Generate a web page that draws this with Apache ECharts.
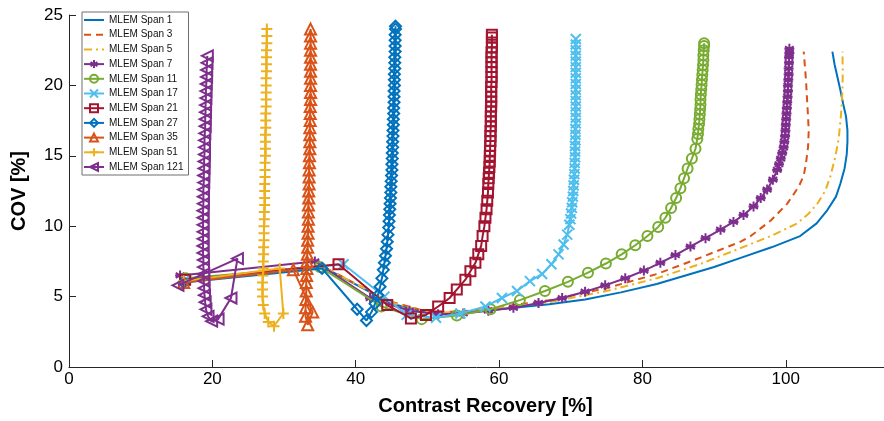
<!DOCTYPE html>
<html>
<head>
<meta charset="utf-8">
<script src="https://cdn.jsdelivr.net/npm/echarts@6/dist/echarts.min.js"></script>
<style>
html,body{margin:0;padding:0;background:#fff;}
#chart{width:884px;height:421px;}
</style>
</head>
<body>
<div id="chart"></div>
<script>
// ---- data (x = contrast recovery %, y = COV %) ----
const seriesNames = ['MLEM Span 1','MLEM Span 3','MLEM Span 5','MLEM Span 7','MLEM Span 11','MLEM Span 17','MLEM Span 21','MLEM Span 27','MLEM Span 35','MLEM Span 51','MLEM Span 121'];
const xTicks = [0,20,40,60,80,100];
const yTicks = [0,5,10,15,20,25];

const span1 = [[16.0,6.1],[35.5,7.1],[45.0,4.5],[50.5,3.8],[55,3.85],[60,4.1],[67,4.45],[72,4.8],[77,5.3],[82,5.9],[86,6.5],[90,7.1],[93.7,7.75],[98,8.5],[102,9.3],[104.3,10.2],[105.8,11.15],[107.0,12.1],[107.6,13.0],[108.2,14.1],[108.5,15.1],[108.6,16.0],[108.6,16.8],[108.4,17.8],[108.0,18.7],[107.6,19.7],[107.2,20.6],[106.8,21.5],[106.5,22.4]];
const span3 = [[16.1,6.2],[35.2,7.2],[44.5,4.7],[50.2,3.9],[55,3.95],[60,4.25],[67,4.75],[75,5.6],[82,6.6],[88,7.75],[93.7,8.9],[95.1,9.3],[97.9,10.4],[100.2,11.6],[101.8,12.8],[102.5,13.6],[102.8,14.4],[103.1,15.6],[103.2,16.8],[103.1,17.8],[103.0,18.7],[102.8,20.5],[102.5,22.4]];
const span5 = [[16.0,6.1],[35.4,7.15],[44.8,4.6],[50.4,3.85],[55,3.9],[60,4.2],[67,4.6],[75,5.4],[82,6.3],[88,7.3],[93.7,8.45],[97.9,9.3],[101.6,10.2],[103.2,10.9],[104.4,11.6],[105.5,12.5],[106.2,13.5],[106.9,14.9],[107.4,16.3],[107.7,17.9],[107.9,19.6],[107.95,21.0],[107.9,22.4]];
const span7 = [[15.5,6.5],[34.3,7.5],[42.0,4.9],[47.5,4.0],[51.5,3.75],[55,3.8],[58.5,4.0],[62,4.2],[65.5,4.55],[68.8,4.9],[72,5.35],[74.8,5.8],[77.6,6.3],[80.2,6.85],[82.5,7.4],[84.6,7.95],[86.7,8.55],[88.8,9.15],[90.9,9.75],[92.7,10.3],[94.1,10.8],[95.5,11.4],[96.5,12.0],[97.4,12.6],[98.2,13.3],[98.8,14.0],[99.05,14.4],[99.3,14.8],[99.5,15.2],[99.7,15.6],[99.8,16.0],[99.9,16.4],[99.95,16.8],[100.0,17.2],[100.05,17.6],[100.1,18.0],[100.15,18.4],[100.2,18.8],[100.25,19.2],[100.3,19.6],[100.3,20.0],[100.35,20.4],[100.4,20.8],[100.4,21.2],[100.45,21.6],[100.45,22.0],[100.5,22.3],[100.5,22.6]];
const span11 = [[16.3,6.3],[35.0,7.1],[43.6,4.3],[49.2,3.4],[54.1,3.65],[58.8,4.1],[62.9,4.75],[66.4,5.4],[69.6,6.05],[72.4,6.7],[74.9,7.35],[77.1,8.0],[79.0,8.65],[80.7,9.3],[82.2,9.95],[83.2,10.6],[84.0,11.3],[84.7,12.0],[85.3,12.7],[85.8,13.4],[86.3,14.1],[86.9,14.8],[87.4,15.5],[87.65,16.2],[87.75,16.55],[87.8,16.9],[87.9,17.25],[87.95,17.6],[88.0,17.95],[88.05,18.3],[88.1,18.65],[88.1,19.0],[88.15,19.35],[88.2,19.7],[88.25,20.05],[88.3,20.4],[88.35,20.75],[88.4,21.1],[88.45,21.45],[88.5,21.8],[88.5,22.15],[88.55,22.5],[88.6,22.8],[88.6,23.0]];
const span17 = [[16.2,6.2],[38.3,7.3],[44.0,5.0],[47.1,3.7],[51.2,3.5],[54.6,3.8],[58.1,4.3],[60.4,4.9],[62.5,5.4],[64.3,6.1],[66.0,6.6],[67.3,7.3],[68.3,8.0],[69.0,8.7],[69.5,9.4],[69.8,10.1],[69.95,10.5],[70.05,10.9],[70.15,11.3],[70.2,11.7],[70.3,12.1],[70.35,12.5],[70.4,12.9],[70.45,13.3],[70.5,13.7],[70.55,14.1],[70.55,14.5],[70.6,14.9],[70.6,15.3],[70.6,15.7],[70.65,16.1],[70.65,16.5],[70.65,16.9],[70.7,17.3],[70.7,17.7],[70.7,18.1],[70.7,18.5],[70.7,18.9],[70.7,19.3],[70.7,19.7],[70.7,20.1],[70.7,20.5],[70.7,20.9],[70.7,21.3],[70.7,21.7],[70.7,22.1],[70.7,22.5],[70.7,22.9],[70.7,23.3]];
const span21 = [[16.2,6.2],[37.6,7.3],[44.4,4.4],[47.7,3.45],[49.8,3.7],[51.5,4.3],[53.1,4.9],[54.1,5.5],[55.3,6.2],[56.0,6.8],[56.7,7.4],[57.1,8.0],[57.5,8.6],[57.7,9.3],[57.95,10.0],[58.1,10.6],[58.25,11.2],[58.35,11.8],[58.45,12.4],[58.5,13.0],[58.55,13.4],[58.6,13.8],[58.65,14.2],[58.7,14.6],[58.7,15.0],[58.75,15.35],[58.75,15.7],[58.8,16.05],[58.8,16.4],[58.8,16.75],[58.85,17.1],[58.85,17.45],[58.85,17.8],[58.85,18.15],[58.9,18.5],[58.9,18.85],[58.9,19.2],[58.9,19.55],[58.9,19.9],[58.95,20.25],[58.95,20.6],[58.95,20.95],[58.95,21.3],[58.95,21.65],[58.95,22.0],[58.95,22.35],[59.0,22.7],[59.0,23.05],[59.0,23.4],[59.0,23.6]];
const span27 = [[16.0,6.0],[35.3,7.0],[40.2,4.1],[41.5,3.3],[42.2,3.9],[42.7,4.5],[43.1,5.1],[43.4,5.7],[43.65,6.3],[43.85,6.9],[44.0,7.4],[44.15,7.9],[44.3,8.4],[44.4,8.9],[44.5,9.4],[44.6,9.9],[44.65,10.35],[44.7,10.8],[44.75,11.2],[44.8,11.6],[44.85,12.0],[44.9,12.4],[44.9,12.8],[44.95,13.2],[45.0,13.6],[45.05,14.0],[45.05,14.4],[45.1,14.8],[45.1,15.2],[45.15,15.6],[45.15,16.0],[45.2,16.4],[45.2,16.8],[45.25,17.2],[45.25,17.6],[45.3,18.0],[45.3,18.4],[45.35,18.8],[45.35,19.2],[45.35,19.6],[45.4,20.0],[45.4,20.4],[45.4,20.8],[45.45,21.2],[45.45,21.6],[45.45,22.0],[45.5,22.4],[45.5,22.8],[45.5,23.2],[45.5,23.6],[45.55,24.0],[45.55,24.2]];
const span35 = [[16.0,6.0],[31.3,6.9],[34.0,3.9],[33.3,3.0],[33.0,3.6],[33.0,4.2],[33.05,4.8],[33.1,5.4],[33.1,6.0],[33.15,6.5],[33.2,7.0],[33.2,7.5],[33.25,8.0],[33.3,8.5],[33.3,9.0],[33.35,9.5],[33.35,10.0],[33.4,10.5],[33.4,11.0],[33.4,11.5],[33.45,12.0],[33.45,12.5],[33.5,13.0],[33.5,13.5],[33.5,14.0],[33.55,14.5],[33.55,15.0],[33.6,15.5],[33.6,16.0],[33.6,16.5],[33.6,17.0],[33.65,17.5],[33.65,18.0],[33.65,18.5],[33.7,19.0],[33.7,19.5],[33.7,20.0],[33.7,20.5],[33.7,21.0],[33.7,21.5],[33.7,22.0],[33.7,22.5],[33.7,23.0],[33.7,23.5],[33.7,24.0]];
const span51 = [[16.0,6.1],[29.4,7.0],[29.9,3.8],[28.6,2.9],[27.8,3.2],[27.3,3.8],[27.1,4.4],[27.0,5.0],[27.0,5.5],[27.0,6.0],[27.05,6.5],[27.1,7.0],[27.1,7.5],[27.15,8.0],[27.15,8.5],[27.2,9.0],[27.2,9.5],[27.2,10.0],[27.25,10.5],[27.25,11.0],[27.3,11.5],[27.3,12.0],[27.3,12.5],[27.3,13.0],[27.35,13.5],[27.35,14.0],[27.35,14.5],[27.4,15.0],[27.4,15.5],[27.4,16.0],[27.4,16.5],[27.45,17.0],[27.45,17.5],[27.45,18.0],[27.5,18.5],[27.5,19.0],[27.5,19.5],[27.5,20.0],[27.5,20.5],[27.55,21.0],[27.55,21.5],[27.55,22.0],[27.55,22.5],[27.6,23.0],[27.6,23.5],[27.6,24.0]];
const span121 = [[15.2,5.8],[23.5,7.7],[22.6,4.9],[20.8,3.4],[19.9,3.25],[19.4,3.6],[19.1,4.1],[19.0,4.6],[18.9,5.1],[18.85,5.6],[18.8,6.1],[18.8,6.6],[18.75,7.1],[18.75,7.6],[18.7,8.1],[18.7,8.6],[18.7,9.1],[18.7,9.6],[18.7,10.1],[18.7,10.6],[18.7,11.1],[18.75,11.6],[18.75,12.1],[18.75,12.6],[18.8,13.1],[18.8,13.6],[18.85,14.1],[18.85,14.6],[18.9,15.1],[18.9,15.6],[18.9,16.1],[18.95,16.6],[19.0,17.1],[19.0,17.6],[19.05,18.1],[19.05,18.6],[19.1,19.1],[19.1,19.6],[19.15,20.1],[19.2,20.6],[19.2,21.1],[19.25,21.6],[19.3,22.1]];

// ---- styling ----
const colors = ['#0072BD','#D95319','#EDB120','#7E2F8E','#77AC30','#4DBEEE','#A2142F','#0072BD','#D95319','#EDB120','#7E2F8E'];
const allData = [span1,span3,span5,span7,span11,span17,span21,span27,span35,span51,span121];
const symbols = ['none','none','none',
  'path://M0,-1L0,1M-0.87,-0.5L0.87,0.5M-0.87,0.5L0.87,-0.5M-1,0L1,0',
  'circle',
  'path://M0,0L1,1M0,1L1,0',
  'rect','diamond','triangle',
  'path://M0.5,0L0.5,1M0,0.5L1,0.5',
  'path://M0,0.5L1,0L1,1Z'];
const lineTypes = ['solid',[7,5],[8,4,2,4],'solid','solid','solid','solid','solid','solid','solid','solid'];
const symSizes = [0,0,0,10,10,10,10,11,11,11,11];

const series = seriesNames.map((name,i)=>{
  const hasSym = symbols[i] !== 'none';
  return {
    name: name,
    type: 'line',
    data: allData[i],
    symbol: symbols[i],
    symbolSize: symSizes[i],
    showSymbol: hasSym,
    showAllSymbol: true,
    lineStyle: {color: colors[i], width: 2, type: lineTypes[i]},
    itemStyle: hasSym
      ? {color: 'rgba(255,255,255,0)', borderColor: colors[i], borderWidth: 2}
      : {color: 'rgba(255,255,255,0)', borderColor: 'rgba(255,255,255,0)', borderWidth: 0},
    emphasis: {disabled: true},
    z: 2 + i
  };
});

const chart = echarts.init(document.getElementById('chart'), null, {renderer: 'canvas'});
chart.setOption({
  animation: false,
  backgroundColor: '#ffffff',
  textStyle: {fontFamily: 'Liberation Sans, Arial, sans-serif'},
  grid: {left: 69, right: 0, top: 15, bottom: 51, containLabel: false},
  legend: {
    data: seriesNames,
    orient: 'vertical',
    left: 82, top: 12,
    itemWidth: 20, itemHeight: 10, itemGap: 4.7,
    padding: [3, 5, 3, 1],
    backgroundColor: '#ffffff',
    borderColor: '#6e6e6e', borderWidth: 1,
    textStyle: {fontSize: 10, color: '#111', fontFamily: 'Liberation Sans, Arial, sans-serif'},
    selectedMode: false
  },
  xAxis: {
    type: 'value', min: 0, max: 113.7, interval: 20,
    name: 'Contrast Recovery [%]', nameLocation: 'middle', nameGap: 29,
    nameTextStyle: {fontSize: 20, fontWeight: 'bold', color: '#000', padding: [0,0,0,18]},
    axisLine: {show: true, onZero: false, lineStyle: {color: '#262626', width: 1}},
    axisTick: {show: true, inside: true, length: 7, customValues: xTicks, lineStyle: {color: '#262626'}},
    axisLabel: {fontSize: 17, color: '#000', margin: 4, customValues: xTicks},
    splitLine: {show: false}
  },
  yAxis: {
    type: 'value', min: 0, max: 25, interval: 5,
    name: 'COV [%]', nameLocation: 'middle', nameGap: 40, nameRotate: 90,
    nameTextStyle: {fontSize: 20, fontWeight: 'bold', color: '#000'},
    axisLine: {show: true, onZero: false, lineStyle: {color: '#262626', width: 1}},
    axisTick: {show: true, inside: true, length: 7, lineStyle: {color: '#262626'}},
    axisLabel: {fontSize: 17, color: '#000', margin: 6, customValues: yTicks},
    splitLine: {show: false}
  },
  series: series
});
</script>
</body>
</html>
